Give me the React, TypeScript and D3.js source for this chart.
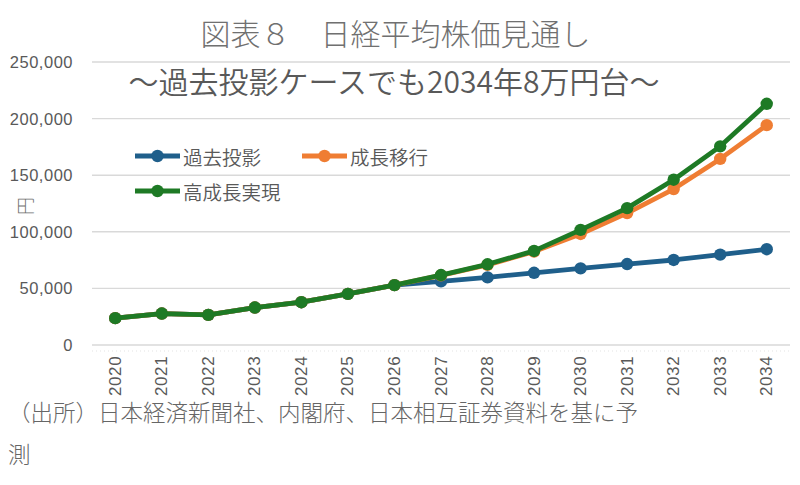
import React from "react";
import * as d3 from "d3";

const years = ["2020","2021","2022","2023","2024","2025","2026","2027","2028","2029","2030","2031","2032","2033","2034"];
const pastProjection = [23700, 27800, 26600, 33100, 37800, 45200, 52900, 56200, 59700, 63800, 67700, 71500, 75100, 79800, 84600];
const growthTransition = [23700, 27800, 26600, 33100, 37800, 45200, 52900, 61500, 70800, 82500, 98100, 116500, 137800, 164400, 194200];
const highGrowth = [23700, 27800, 26600, 33100, 37800, 45200, 52900, 61800, 71300, 83100, 101700, 120900, 146000, 175500, 213100];
const yTicks = [0, 50000, 100000, 150000, 200000, 250000];

const seriesList = [
  { name: "過去投影", values: pastProjection, color: "#1f5f8b" },
  { name: "成長移行", values: growthTransition, color: "#ef7d33" },
  { name: "高成長実現", values: highGrowth, color: "#1e7a25" },
];

const JP = "'Noto Sans CJK JP', 'Noto Sans', sans-serif";
const NUM = "'Liberation Sans', Arial, sans-serif";
const GREY = "#595959";

export default function App() {
  const W = 800, H = 485;
  const plotLeft = 92, plotRight = 790;
  const x = d3.scalePoint<string>().domain(years).range([plotLeft, plotRight]).padding(0.5);
  const y = d3.scaleLinear().domain([0, 250000]).range([345, 62]);
  const line = d3.line<number>().x((_, i) => x(years[i]) as number).y((d) => y(d));
  const fmt = d3.format(",");

  const legend = [
    { s: seriesList[0], x0: 135, y0: 156 },
    { s: seriesList[1], x0: 302, y0: 156 },
    { s: seriesList[2], x0: 135, y0: 191 },
  ];

  return (
    <svg width={W} height={H} style={{ position: "absolute", left: 0, top: 0, background: "#fff" }}>
      <rect x={0} y={0} width={W} height={H} fill="#fff" />
      {yTicks.map((t) => (
        <g key={t}>
          <line x1={plotLeft} x2={plotRight} y1={y(t)} y2={y(t)} stroke="#d9d9d9" strokeWidth={1.4} />
          <text x={73} y={y(t)} textAnchor="end" dominantBaseline="central" fontFamily={NUM} fontSize={16.5} letterSpacing={0.5} fill={GREY}>
            {fmt(t)}
          </text>
        </g>
      ))}
      <line x1={plotLeft} x2={plotRight} y1={351} y2={351} stroke="#e3e3e3" strokeWidth={1} strokeDasharray="1 3" />
      {years.map((yr) => (
        <text key={yr} transform={`translate(${x(yr)},396) rotate(-90)`} textAnchor="start" dominantBaseline="central" fontFamily={NUM} fontSize={17} letterSpacing={0.6} fill={GREY}>
          {yr}
        </text>
      ))}
      <text x={395.5} y={45} textAnchor="middle" fontFamily={JP} fontSize={30} fontWeight={300} fill="#707070">図表８　日経平均株価見通し</text>
      <text x={394} y={93} textAnchor="middle" fontFamily={JP} fontSize={30} fontWeight={350} fill={GREY}>～過去投影ケースでも2034年8万円台～</text>
      <text transform="translate(24,206) rotate(-90)" textAnchor="middle" dominantBaseline="central" fontFamily={JP} fontSize={18} fontWeight={300} fill="#707070">円</text>
      {seriesList.map((s) => (
        <g key={s.name}>
          <path d={line(s.values) || ""} fill="none" stroke={s.color} strokeWidth={4.8} strokeLinejoin="round" />
          {s.values.map((v, i) => (
            <circle key={i} cx={x(years[i])} cy={y(v)} r={6.2} fill={s.color} />
          ))}
        </g>
      ))}
      {legend.map(({ s, x0, y0 }) => (
        <g key={s.name}>
          <line x1={x0} x2={x0 + 45} y1={y0} y2={y0} stroke={s.color} strokeWidth={4.8} />
          <circle cx={x0 + 22.5} cy={y0} r={6.2} fill={s.color} />
          <text x={x0 + 48} y={y0} dominantBaseline="central" fontFamily={JP} fontSize={19.5} fontWeight={350} fill={GREY}>{s.name}</text>
        </g>
      ))}
      <text x={8} y={421} fontFamily={JP} fontSize={22.5} fontWeight={300} fill="#666">（出所）日本経済新聞社、内閣府、日本相互証券資料を基に予</text>
      <text x={8} y={463} fontFamily={JP} fontSize={22.5} fontWeight={300} fill="#666">測</text>
    </svg>
  );
}
